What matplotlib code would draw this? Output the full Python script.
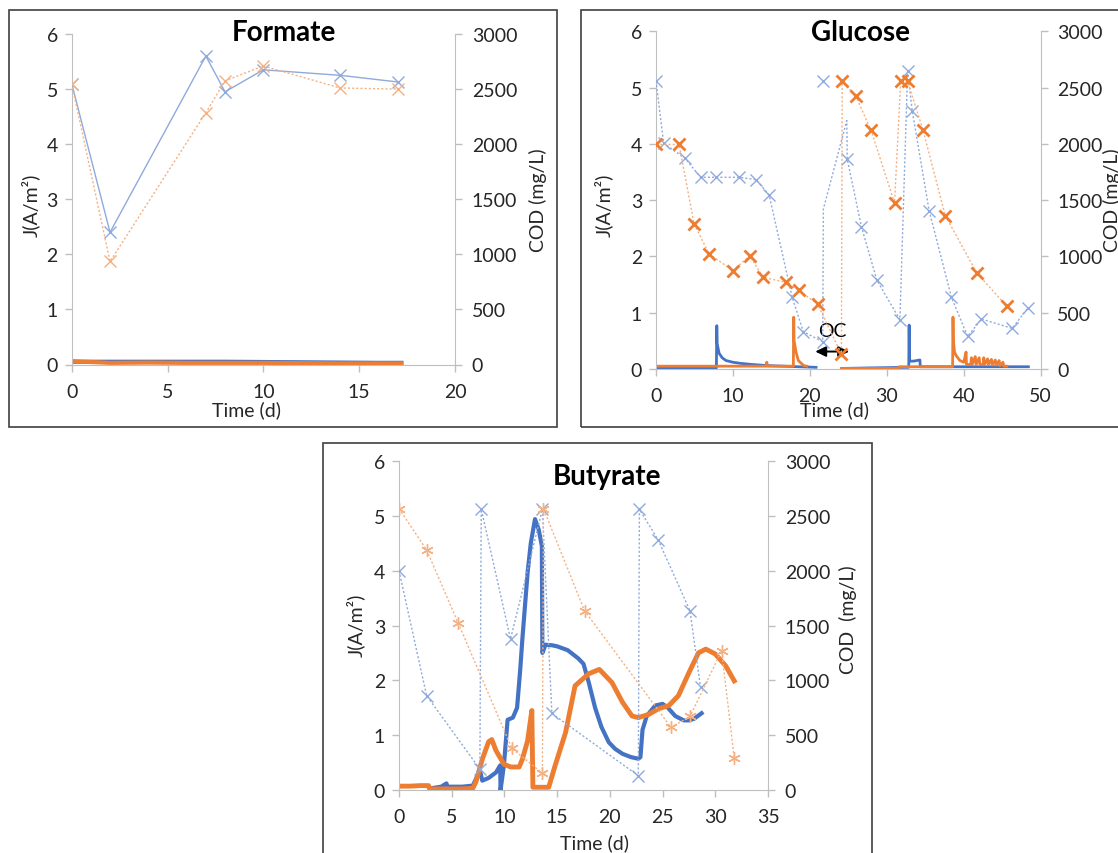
import matplotlib.pyplot as plt
from matplotlib.patches import Rectangle

# colours (Excel palette)
BLUE, ORANGE = '#4472C4', '#ED7D31'
LBLUE, LORANGE = '#8FAADC', '#F4B183'
GREY = '#BFBFBF'

# ---------------- Formate ----------------
form_cod_t = [0, 2, 7, 8, 10, 14, 17]
form_cod_blue = [2550, 1200, 2800, 2475, 2675, 2625, 2565]
form_cod_orange = [2550, 935, 2285, 2575, 2710, 2510, 2500]
form_j_t = [0, 2, 4, 6, 8, 10, 12, 14, 16, 17.2]
form_j_blue = [0.05, 0.05, 0.05, 0.05, 0.05, 0.045, 0.04, 0.035, 0.03, 0.03]
form_j_orange = [0.06, 0.03, 0.035, 0.03, 0.03, 0.03, 0.025, 0.02, 0.02, 0.02]

# ---------------- Glucose ----------------
glu_cod_blue_t = [0, 1.0, 3.77, 5.8, 7.8, 10.83, 13.0, 14.7, 17.7, 19.15, 21.67,
                  21.75, 24.8, 24.85, 26.7, 28.7, 31.7, 32.7, 33.3, 35.5, 38.4,
                  40.5, 42.3, 46.3, 48.3]
glu_cod_blue = [2560, 2005, 1872, 1703, 1703, 1703, 1682, 1546, 637, 331, 243,
                1420, 2207, 1866, 1264, 790, 438, 2645, 2295, 1406, 637,
                290, 444, 361, 539]
glu_cod_blue_nomark = [11, 12]          # bends without a marker
glu_cod_blue_lone = (21.75, 2561)       # unconnected sample
glu_cod_orange_t = [0, 3.0, 4.95, 6.9, 10.0, 12.2, 13.9, 16.86, 18.55, 21.0, 24.1,
                    24.2, 25.96, 27.94, 31.0, 31.8, 32.7, 34.7, 37.6, 41.7, 45.6]
glu_cod_orange = [1995, 1995, 1289, 1022, 874, 1007, 815, 770, 699, 577, 133,
                  2562, 2423, 2123, 1475, 2556, 2556, 2123, 1362, 853, 557]

nan = float('nan')
glu_j_blue_t = [0, 7.85, 7.9, 7.95, 8.2, 8.6, 9.1, 10, 11, 12.5, 14.5, 16.7, 18.5, 20.8,
                nan,
                24.2, 28, 32.85, 32.9, 32.95, 33.5, 34.3, 34.35, 36, 38.6, 41, 44, 46, 48.4]
glu_j_blue = [0.02, 0.02, 0.77, 0.45, 0.28, 0.2, 0.15, 0.12, 0.1, 0.08, 0.06, 0.05, 0.04, 0.03,
              nan,
              0.01, 0.02, 0.03, 0.78, 0.14, 0.14, 0.16, 0.04, 0.04, 0.04, 0.04, 0.04, 0.04, 0.04]
glu_j_orange_t = [0, 14.3, 14.4, 14.5, 17.85, 17.9, 17.95, 18.2, 18.5, 19.2, 19.6,
                  nan,
                  24.1, 31.5, 31.6, 38.55, 38.6, 38.65, 38.8, 39.0, 39.5, 40.0,
                  40.3, 40.35, 40.9, 41.0, 41.1, 41.5, 41.6, 42.0, 42.1, 42.5, 42.6, 42.7,
                  43.1, 43.2, 43.6, 43.7, 44.1, 44.2, 44.6, 44.7, 45.1, 45.2, 45.6]
glu_j_orange = [0.05, 0.05, 0.12, 0.05, 0.05, 0.92, 0.5, 0.3, 0.15, 0.06, 0.05,
                nan,
                0.01, 0.01, 0.04, 0.04, 0.92, 0.5, 0.3, 0.24, 0.15, 0.12,
                0.3, 0.08, 0.08, 0.2, 0.08, 0.22, 0.08, 0.2, 0.08, 0.08, 0.2, 0.08,
                0.18, 0.08, 0.17, 0.07, 0.16, 0.07, 0.15, 0.06, 0.12, 0.05, 0.05]
glu_oc_span = (20.7, 25.1)   # open-circuit period marked by the arrow

# ---------------- Butyrate ----------------
but_cod_blue_t = [0, 2.62, 7.67, 7.8, 10.58, 13.6, 14.5, 22.7, 22.8, 24.6, 27.6, 28.6]
but_cod_blue = [2000, 860, 191, 2560, 1376, 2560, 698, 130, 2560, 2277, 1634, 935]
but_cod_orange_t = [0, 2.62, 5.62, 10.7, 13.6, 13.7, 17.6, 25.8, 27.6, 30.6, 31.8]
but_cod_orange = [2566, 2189, 1521, 380, 152, 2566, 1634, 571, 671, 1269, 288]

but_j_blue_t = [3.0, 4.0, 4.5, 4.6, 5.0, 6.0, 7.0, 7.3, 7.65, 7.9, 8.5, 9.2, 9.6, 9.63,
                9.95, 10.3, 10.8, 11.2, 11.5, 11.7, 12.2, 12.5, 12.9, 13.25, 13.55, 13.6,
                13.9, 14.5, 15.0, 16.0, 17.0, 17.5, 18.0, 18.6, 19.2, 19.9, 20.5, 21.2,
                22.0, 22.7, 22.9, 23.1, 23.5, 24.3, 25.0, 25.5, 26.2, 27.0, 27.5, 28.0, 28.7]
but_j_blue = [0.03, 0.06, 0.12, 0.06, 0.06, 0.06, 0.08, 0.2, 0.38, 0.17, 0.22, 0.32, 0.45, 0.0,
              0.45, 1.28, 1.32, 1.5, 2.2, 2.75, 3.97, 4.5, 4.94, 4.75, 4.45, 2.5,
              2.65, 2.64, 2.62, 2.55, 2.4, 2.3, 1.96, 1.5, 1.15, 0.87, 0.75, 0.66,
              0.6, 0.57, 0.6, 1.1, 1.35, 1.54, 1.57, 1.5, 1.35, 1.27, 1.27, 1.3, 1.4]
but_j_orange_t = [0, 1, 2, 2.8, 2.9, 4, 5, 6, 7, 7.3, 7.9, 8.5, 8.8, 9.2, 9.95, 10.6, 11.4,
                  11.7, 12.2, 12.6, 12.7, 13.5, 14.2, 14.8, 15.8, 16.7, 17.4, 18.0, 19.0,
                  20.2, 21.2, 22.1, 22.7, 23.7, 24.6, 25.6, 26.5, 27.5, 28.4, 29.1, 30.0,
                  31.0, 31.8]
but_j_orange = [0.07, 0.07, 0.08, 0.08, 0.02, 0.02, 0.02, 0.02, 0.03, 0.15, 0.56, 0.88, 0.92,
                0.72, 0.47, 0.42, 0.42, 0.56, 0.9, 1.45, 0.05, 0.05, 0.05, 0.44, 1.05, 1.9,
                2.02, 2.12, 2.2, 1.96, 1.6, 1.35, 1.32, 1.38, 1.48, 1.54, 1.72, 2.14, 2.5,
                2.57, 2.48, 2.26, 1.99]

plt.rcParams['font.family'] = ['Lato', 'DejaVu Sans']
W, H = 1118, 854
fig = plt.figure(figsize=(W / 100, H / 100), dpi=100)
TXT = '#262626'


def box(x0, y0, x1, y1):
    fig.add_artist(Rectangle((x0 / W, 1 - y1 / H), (x1 - x0) / W, (y1 - y0) / H,
                             transform=fig.transFigure, fill=False,
                             edgecolor='#404040', lw=1.2))


def panel(x0, x1, ytop, ybot, xmax, xstep):
    ax = fig.add_axes([x0 / W, 1 - ybot / H, (x1 - x0) / W, (ybot - ytop) / H])
    ax.set_xlim(0, xmax)
    ax.set_ylim(0, 6)
    ax.set_xticks(range(0, xmax + 1, xstep))
    ax.set_yticks(range(0, 7))
    for s in ['top', 'right']:
        ax.spines[s].set_visible(False)
    for s in ['left', 'bottom']:
        ax.spines[s].set_color(GREY)
    ax.tick_params(direction='out', length=5, width=1, color=GREY,
                   labelsize=14, labelcolor=TXT)
    ax.tick_params(axis='x', pad=8)
    ax.tick_params(axis='y', pad=5)
    ax2 = ax.twinx()
    ax2.set_ylim(0, 3000)
    ax2.set_yticks(range(0, 3001, 500))
    for s in ['top', 'left', 'bottom']:
        ax2.spines[s].set_visible(False)
    ax2.spines['right'].set_color(GREY)
    ax2.tick_params(direction='out', length=5, width=1, color=GREY,
                    labelsize=14, labelcolor=TXT, pad=7)
    return ax, ax2


def labels(title, tpos, jpos, tlpos, codpos, cod='COD (mg/L)'):
    fig.text(tpos[0] / W, 1 - tpos[1] / H, title, ha='center', va='center',
             fontsize=20, fontweight='bold', color='black')
    fig.text(jpos[0] / W, 1 - jpos[1] / H, 'J(A/m²)', ha='center', va='center',
             rotation=90, fontsize=14, color=TXT)
    fig.text(tlpos[0] / W, 1 - tlpos[1] / H, 'Time (d)', ha='center', va='center',
             fontsize=14, color=TXT)
    fig.text(codpos[0] / W, 1 - codpos[1] / H, cod, ha='center', va='center',
             rotation=90, fontsize=14, color=TXT)


dot = (0, (1.5, 1.5))

# Formate
box(9, 11, 557, 428)
ax, ax2 = panel(71.7, 455, 35, 365.5, 20, 5)
ax.plot(form_j_t, form_j_blue, color=BLUE, lw=3)
ax.plot(form_j_t, form_j_orange, color=ORANGE, lw=3)
ax2.plot(form_cod_t, form_cod_blue, color=LBLUE, lw=1, marker='x', ms=8, mew=1)
ax2.plot(form_cod_t, form_cod_orange, color=LORANGE, lw=1, ls=dot, marker='x', ms=8, mew=1)
labels('Formate', (284, 33), (30, 205), (246, 410), (538, 200))

# Glucose
box(581, 11, 1140, 428)
ax, ax2 = panel(656, 1040.7, 32.3, 370, 50, 10)
ax.plot(glu_j_blue_t, glu_j_blue, color=BLUE, lw=2)
ax.plot(glu_j_orange_t, glu_j_orange, color=ORANGE, lw=2)
marks = [i for i in range(len(glu_cod_blue_t)) if i not in glu_cod_blue_nomark]
ax2.plot(glu_cod_blue_t, glu_cod_blue, color=LBLUE, lw=1, ls=dot, marker='x', ms=8, mew=1,
         markevery=marks)
ax2.plot([glu_cod_blue_lone[0]], [glu_cod_blue_lone[1]], color=LBLUE, ls='none',
         marker='x', ms=8, mew=1)
ax2.plot(glu_cod_orange_t, glu_cod_orange, color=LORANGE, lw=1, ls=dot)
ax2.plot(glu_cod_orange_t, glu_cod_orange, color=ORANGE, ls='none', marker='x', ms=8, mew=2)
ax.text(sum(glu_oc_span) / 2, 0.68, 'OC', ha='center', va='center', fontsize=14,
        color='black')
ax.annotate('', xy=(glu_oc_span[0], 0.31), xytext=(glu_oc_span[1], 0.31),
            arrowprops=dict(arrowstyle='<|-|>,head_length=0.45,head_width=0.22',
                            color='black', lw=1.4, mutation_scale=14,
                            shrinkA=0, shrinkB=0))
labels('Glucose', (860, 33), (603, 205), (835, 410), (1112, 200))

# Butyrate
box(323, 444, 872, 870)
ax, ax2 = panel(399, 768, 462, 791, 35, 5)
ax.plot(but_j_blue_t, but_j_blue, color=BLUE, lw=3)
ax.plot(but_j_orange_t, but_j_orange, color=ORANGE, lw=3.5)
ax2.plot(but_cod_blue_t, but_cod_blue, color=LBLUE, lw=1, ls=dot, marker='x', ms=8, mew=1)
ax2.plot(but_cod_orange_t, but_cod_orange, color=LORANGE, lw=1, ls=dot,
         marker=(6, 2, 0), ms=9, mew=1)
labels('Butyrate', (607, 477), (355, 625), (595, 843), (848, 620), cod='COD  (mg/L)')

plt.savefig('out.png', dpi=100)
